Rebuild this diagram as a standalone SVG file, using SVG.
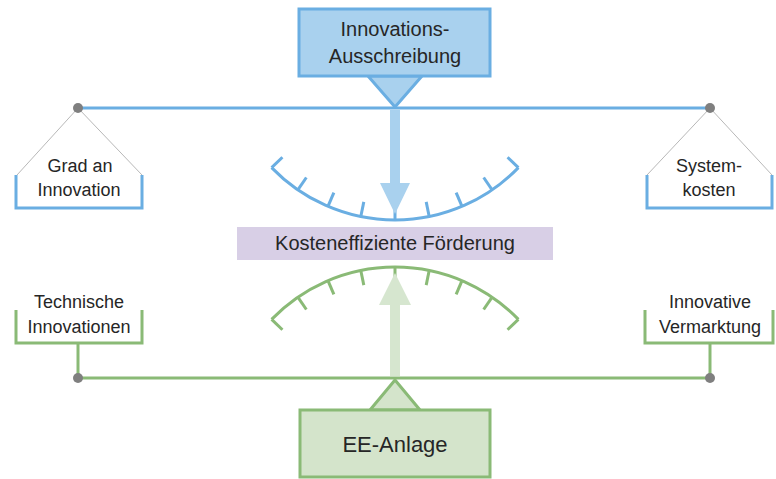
<svg xmlns="http://www.w3.org/2000/svg" width="776" height="479" viewBox="0 0 776 479">
<style>
text{font-family:"Liberation Sans",Arial,sans-serif;fill:#262626;text-anchor:middle}
.big{font-size:20px}.ee{font-size:22px}.mid{font-size:20px}.sm{font-size:18px}
.bl{stroke:#6aaee2;stroke-width:3;fill:none}
.gr{stroke:#8aba76;stroke-width:3;fill:none}
.thin{stroke:#b8b8b8;stroke-width:1;fill:none}
.dot{fill:#7f7f7f}
</style>
<defs>
<line id="tt" x1="395" y1="220" x2="395" y2="205" class="bl"/>
<line id="bt" x1="395" y1="267" x2="395" y2="282" class="gr"/>
</defs>
<g id="connectors">
<line x1="78" y1="108" x2="710" y2="108" class="bl"/>
<line x1="78" y1="378" x2="710" y2="378" class="gr"/>
<polyline points="17,175 78,108 142,175" class="thin"/>
<polyline points="647,175 710,108 772,175" class="thin"/>
<line x1="78" y1="343" x2="78" y2="378" class="gr"/>
<line x1="710" y1="343" x2="710" y2="378" class="gr"/>
</g>
<g id="gauge-top">
<path d="M271.6,167.6 A171.5,171.5 0 0 0 518.4,167.6" class="bl"/>
<use href="#tt"/>
<use href="#tt" transform="rotate(11.5 395 48.5)"/><use href="#tt" transform="rotate(-11.5 395 48.5)"/>
<use href="#tt" transform="rotate(23 395 48.5)"/><use href="#tt" transform="rotate(-23 395 48.5)"/>
<use href="#tt" transform="rotate(34.5 395 48.5)"/><use href="#tt" transform="rotate(-34.5 395 48.5)"/>
<use href="#tt" transform="rotate(46 395 48.5)"/><use href="#tt" transform="rotate(-46 395 48.5)"/>
</g>
<g id="gauge-bottom">
<path d="M271.6,319.4 A171.5,171.5 0 0 1 518.4,319.4" class="gr"/>
<use href="#bt"/>
<use href="#bt" transform="rotate(11.5 395 438.5)"/><use href="#bt" transform="rotate(-11.5 395 438.5)"/>
<use href="#bt" transform="rotate(23 395 438.5)"/><use href="#bt" transform="rotate(-23 395 438.5)"/>
<use href="#bt" transform="rotate(34.5 395 438.5)"/><use href="#bt" transform="rotate(-34.5 395 438.5)"/>
<use href="#bt" transform="rotate(46 395 438.5)"/><use href="#bt" transform="rotate(-46 395 438.5)"/>
</g>
<g id="arrow-top">
<polygon points="390,110 400,110 400,183 410,183 395,214 380,183 390,183" fill="#a9d1ee"/>
</g>
<g id="arrow-bottom">
<polygon points="390,376 400,376 400,305 411,305 395,273 379,305 390,305" fill="#d6e6cf"/>
</g>
<g id="innovations-ausschreibung">
<polygon points="368,76 422,76 395,107" fill="#a9d1ee" stroke="#6aaee2" stroke-width="3" stroke-linejoin="round"/>
<rect x="299" y="9" width="191" height="67" fill="#a9d1ee" stroke="#6aaee2" stroke-width="3"/>
<text x="395" y="36" class="big">Innovations-</text>
<text x="395" y="63" class="big">Ausschreibung</text>
</g>
<g id="kosteneffiziente-foerderung">
<rect x="237" y="227" width="316" height="33" fill="#d8cfe6"/>
<text x="395" y="250" class="mid">Kosteneffiziente Förderung</text>
</g>
<g id="ee-anlage">
<polygon points="370,410 420,410 395,380" fill="#d4e4cb" stroke="#8aba76" stroke-width="3" stroke-linejoin="round"/>
<rect x="300" y="410" width="190" height="67" fill="#d4e4cb" stroke="#8aba76" stroke-width="3"/>
<text x="395" y="452" class="ee">EE-Anlage</text>
</g>
<g id="grad-an-innovation">
<polyline points="16,175 16,208 142,208 142,175" class="bl"/>
<text x="80" y="172" class="sm">Grad an</text>
<text x="79" y="196" class="sm">Innovation</text>
<circle cx="78" cy="108" r="5" class="dot"/>
</g>
<g id="systemkosten">
<polyline points="647,175 647,208 772,208 772,175" class="bl"/>
<text x="709" y="172" class="sm">System-</text>
<text x="709" y="196" class="sm">kosten</text>
<circle cx="710" cy="108" r="5" class="dot"/>
</g>
<g id="technische-innovationen">
<polyline points="16,310 16,343 142,343 142,310" class="gr"/>
<text x="79" y="308" class="sm">Technische</text>
<text x="79" y="333" class="sm">Innovationen</text>
<circle cx="78" cy="378" r="5" class="dot"/>
</g>
<g id="innovative-vermarktung">
<polyline points="645,310 645,343 773,343 773,310" class="gr"/>
<text x="710" y="308" class="sm">Innovative</text>
<text x="710" y="333" class="sm">Vermarktung</text>
<circle cx="710" cy="378" r="5" class="dot"/>
</g>
</svg>
